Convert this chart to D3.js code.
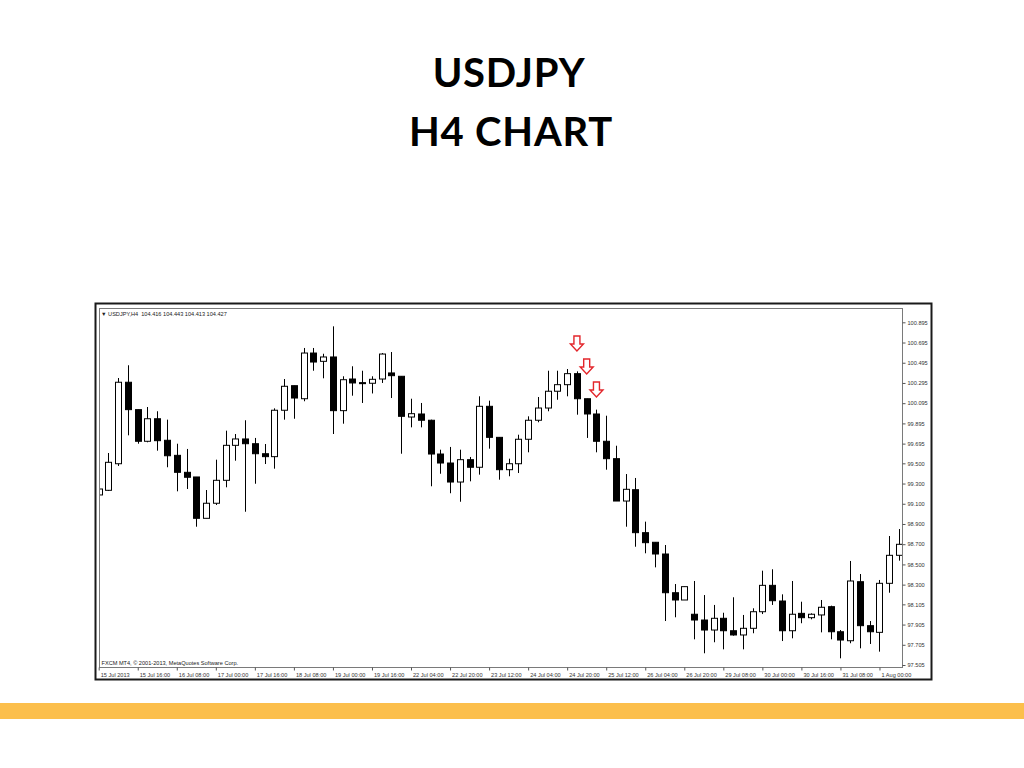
<!DOCTYPE html>
<html>
<head>
<meta charset="utf-8">
<script src="https://cdn.jsdelivr.net/npm/d3@7"></script>
<style>
  html, body { margin: 0; padding: 0; background: #ffffff; }
  svg { display: block; }
</style>
</head>
<body>
<svg id="chart" width="1024" height="768"></svg>
<script>
// ---- data (USDJPY, H4) ----
const barOpen = [99.187,99.233,99.496,100.302,100.031,99.718,99.941,99.728,99.579,99.411,
  99.365,98.956,99.105,99.332,99.678,99.741,99.694,99.595,99.566,100.025,
  100.268,100.139,100.591,100.509,100.552,100.021,100.334,100.298,100.292,100.334,
  100.394,100.361,99.958,99.988,99.926,99.592,99.503,99.315,99.536,99.461,
  100.064,99.757,99.437,99.496,99.738,99.926,100.047,100.213,100.278,100.387,
  100.139,99.988,99.718,99.546,99.127,99.239,98.814,98.719,98.603,98.220,
  98.148,98.007,97.950,97.851,97.967,97.844,97.802,97.868,98.032,98.293,
  98.138,97.844,98.016,97.973,98.000,98.082,97.834,97.745,98.329,97.894,
  97.828,98.313,98.590];
const barHigh = [99.335,99.602,100.344,100.470,100.031,100.057,100.015,99.932,99.694,99.642,
  99.365,99.236,99.536,99.823,99.790,99.926,99.751,99.691,100.044,100.334,
  100.268,100.641,100.641,100.584,100.855,100.361,100.460,100.416,100.361,100.591,
  100.601,100.361,100.139,100.097,99.932,99.635,99.662,99.635,99.563,100.163,
  100.120,99.757,99.546,99.783,99.965,100.156,100.416,100.416,100.433,100.410,
  100.139,100.031,99.971,99.674,99.394,99.355,98.923,98.719,98.692,98.306,
  98.280,98.336,98.197,98.099,98.022,98.175,98.000,98.066,98.438,98.452,
  98.204,98.336,98.131,98.016,98.148,98.092,97.851,98.534,98.405,97.940,
  98.346,98.781,98.850];
const barLow = [99.058,99.226,99.474,99.777,99.694,99.708,99.625,99.461,99.223,99.246,
  98.873,98.956,99.088,99.263,99.526,99.021,99.298,99.493,99.447,99.932,
  99.941,100.114,100.416,100.341,99.790,99.892,100.169,100.097,100.191,100.295,
  100.146,99.595,99.856,99.856,99.273,99.397,99.204,99.120,99.322,99.388,
  99.645,99.338,99.372,99.404,99.609,99.906,100.015,100.129,100.163,99.981,
  99.751,99.609,99.437,99.127,98.873,98.675,98.610,98.471,97.940,97.977,
  98.148,97.759,97.621,97.730,97.660,97.795,97.660,97.819,98.009,98.099,
  97.742,97.769,97.918,97.957,97.828,97.759,97.571,97.720,97.670,97.713,
  97.637,98.220,98.537];
const barClose = [99.246,99.510,100.302,100.031,99.718,99.941,99.724,99.575,99.411,99.362,
  98.956,99.105,99.332,99.678,99.741,99.694,99.595,99.566,100.025,100.262,
  100.146,100.591,100.502,100.552,100.021,100.327,100.295,100.288,100.331,100.581,
  100.367,99.965,99.991,99.926,99.592,99.503,99.315,99.536,99.461,100.064,
  99.757,99.437,99.496,99.738,99.926,100.047,100.213,100.278,100.387,100.139,
  99.988,99.718,99.546,99.127,99.243,98.814,98.715,98.603,98.220,98.148,
  98.280,97.950,97.851,97.967,97.844,97.802,97.868,98.032,98.293,98.141,
  97.844,98.007,97.973,98.007,98.076,97.834,97.752,98.336,97.894,97.834,
  98.313,98.590,98.699];

// bar index of each time label and the label texts
const timeTickBars = [0,4,8,12,16,20,24,28,32,36,40,44,48,52,56,60,64,68,72,76,80];
const timeTickLabels = ["15 Jul 2013","15 Jul 16:00","16 Jul 08:00","17 Jul 00:00","17 Jul 16:00",
  "18 Jul 08:00","19 Jul 00:00","19 Jul 16:00","22 Jul 04:00","22 Jul 20:00","23 Jul 12:00",
  "24 Jul 04:00","24 Jul 20:00","25 Jul 12:00","26 Jul 04:00","26 Jul 20:00","29 Jul 08:00",
  "30 Jul 00:00","30 Jul 16:00","31 Jul 08:00","1 Aug 00:00"];
const priceTickLabels = ["100.895","100.695","100.495","100.295","100.095","99.895","99.695",
  "99.500","99.300","99.100","98.900","98.700","98.500","98.300","98.105","97.905","97.705","97.505"];

// signal arrows (bar index, price of the arrow tip)
const arrowBars = [49, 50, 51];
const arrowPrices = [100.611, 100.384, 100.156];

const titleLines = ["USDJPY", "H4 CHART"];
const headerText = "\u25BC USDJPY,H4  104.416 104.443 104.413 104.427";
const copyrightText = "FXCM MT4, \u00A9 2001-2013, MetaQuotes Software Corp.";

// ---- drawing ----
const svg = d3.select("#chart");
svg.append("rect").attr("width", 1024).attr("height", 768).attr("fill", "#ffffff");

// title
svg.append("g").selectAll("text").data(titleLines).join("text")
  .attr("x", (d, i) => i === 0 ? 509 : 511)
  .attr("y", (d, i) => i === 0 ? 87 : 146)
  .attr("text-anchor", "middle")
  .attr("font-family", "Lato, 'Open Sans', sans-serif")
  .attr("font-weight", 700)
  .attr("font-size", 40)
  .attr("letter-spacing", 0.8)
  .attr("fill", "#000")
  .text(d => d);

// orange band
svg.append("rect").attr("x", 0).attr("y", 703).attr("width", 1024).attr("height", 16)
  .attr("fill", "#FCBF4C");

// chart frame
const plot = { left: 99, right: 902, top: 308, bottom: 667 };
svg.append("rect").attr("x", 95.5).attr("y", 303.5).attr("width", 836).attr("height", 376)
  .attr("fill", "#fff").attr("stroke", "#1a1a1a").attr("stroke-width", 2);

const x = d3.scaleLinear().domain([0, 82]).range([98.7, 899]);
const y = d3.scaleLinear().domain([97.505, 100.895]).range([665, 322.3]);

svg.append("rect").attr("x", plot.left + 0.5).attr("y", plot.top + 0.5)
  .attr("width", plot.right - plot.left).attr("height", plot.bottom - plot.top)
  .attr("fill", "none").attr("stroke", "#7a7a7a").attr("stroke-width", 1);

svg.append("clipPath").attr("id", "plotclip").append("rect")
  .attr("x", plot.left + 1).attr("y", plot.top + 1)
  .attr("width", plot.right - plot.left - 1).attr("height", plot.bottom - plot.top - 1);

const smallFont = "'Liberation Sans', Arial, sans-serif";

// price axis
const yAxis = d3.axisRight(y)
  .tickValues(priceTickLabels.map(Number))
  .tickFormat((d, i) => priceTickLabels[i])
  .tickSize(3).tickPadding(2);
const gy = svg.append("g").attr("transform", `translate(${plot.right + 0.5},0)`).call(yAxis);
gy.select(".domain").remove();
gy.selectAll(".tick line").attr("stroke", "#555");
gy.selectAll(".tick text").attr("font-family", smallFont).attr("font-size", 5.6).attr("fill", "#333");

// time axis
const xAxis = d3.axisBottom(x)
  .tickValues(timeTickBars)
  .tickFormat((d, i) => timeTickLabels[i])
  .tickSize(3).tickPadding(1);
const gx = svg.append("g").attr("transform", `translate(0,${plot.bottom + 0.5})`).call(xAxis);
gx.select(".domain").remove();
gx.selectAll(".tick line").attr("stroke", "#555");
gx.selectAll(".tick text").attr("font-family", smallFont).attr("font-size", 5.6).attr("fill", "#333")
  .attr("text-anchor", "start").attr("dx", 1.5).attr("dy", "0.9em");

// header and copyright
svg.append("text").attr("x", 101).attr("y", 315.5).attr("font-family", smallFont)
  .attr("font-size", 5.6).attr("fill", "#222").attr("xml:space", "preserve").text(headerText);
svg.append("text").attr("x", 101.5).attr("y", 664.5).attr("font-family", smallFont)
  .attr("font-size", 5.6).attr("fill", "#222").text(copyrightText);

// candles
const bars = d3.range(barOpen.length).map(i => ({
  i, o: barOpen[i], h: barHigh[i], l: barLow[i], c: barClose[i]
}));
const gc = svg.append("g").attr("clip-path", "url(#plotclip)");
const bodyW = 6;
gc.selectAll("line.wick").data(bars).join("line")
  .attr("class", "wick")
  .attr("x1", d => Math.round(x(d.i)) + 0.5).attr("x2", d => Math.round(x(d.i)) + 0.5)
  .attr("y1", d => y(d.h)).attr("y2", d => y(d.l))
  .attr("stroke", "#000").attr("stroke-width", 1);
gc.selectAll("rect.body").data(bars).join("rect")
  .attr("class", "body")
  .attr("x", d => Math.round(x(d.i)) - bodyW / 2 + 0.5)
  .attr("y", d => y(Math.max(d.o, d.c)))
  .attr("width", bodyW)
  .attr("height", d => Math.max(1, y(Math.min(d.o, d.c)) - y(Math.max(d.o, d.c))))
  .attr("fill", d => d.c >= d.o ? "#fff" : "#000")
  .attr("stroke", "#000").attr("stroke-width", 1);

// red arrows
const arrowPath = "M-3,-15 L3,-15 L3,-7 L6.5,-7 L0,0 L-6.5,-7 L-3,-7 Z";
svg.append("g").selectAll("path").data(arrowBars).join("path")
  .attr("transform", (d, i) => `translate(${x(d)},${y(arrowPrices[i])})`)
  .attr("d", arrowPath)
  .attr("fill", "#fff").attr("stroke", "#e3262b").attr("stroke-width", 1.4)
  .attr("stroke-linejoin", "miter");
</script>
</body>
</html>
